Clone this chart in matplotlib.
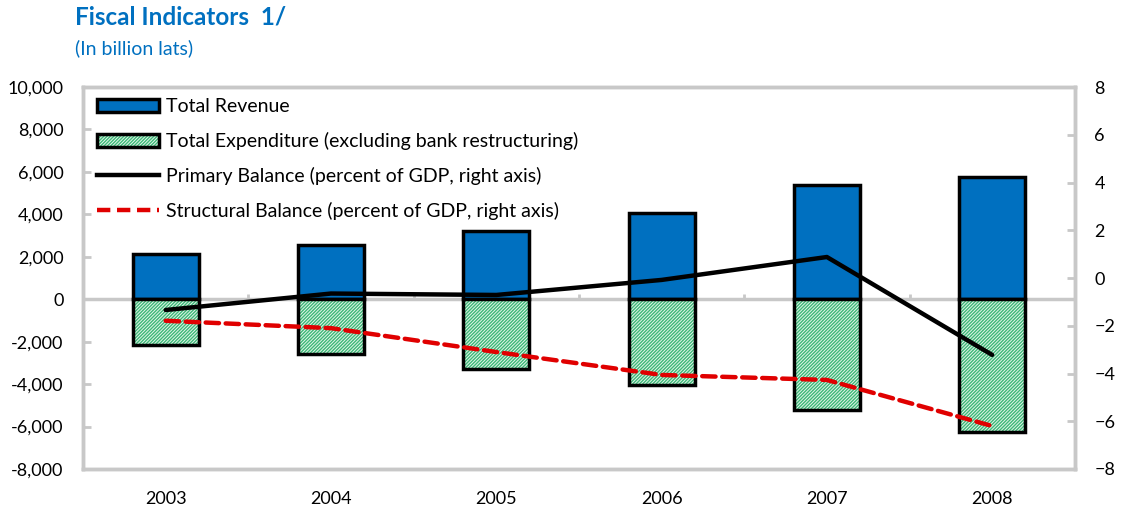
import matplotlib
matplotlib.use("Agg")
import matplotlib.pyplot as plt
import numpy as np
from matplotlib.patches import Patch
from matplotlib.lines import Line2D

years = ["2003", "2004", "2005", "2006", "2007", "2008"]
revenue = [2120, 2550, 3200, 4050, 5400, 5750]
expenditure = [2170, 2600, 3300, 4050, 5240, 6270]
primary_balance = [-1.34, -0.65, -0.71, -0.08, 0.88, -3.22]
structural_balance = [-1.79, -2.1, -3.1, -4.06, -4.27, -6.2]

left_ticks = [-8000, -6000, -4000, -2000, 0, 2000, 4000, 6000, 8000, 10000]
right_ticks = [-8, -6, -4, -2, 0, 2, 4, 6, 8]

BLUE = "#0070C0"
GREEN = "#3cb878"
LIGHTGREEN = "#e6f5ea"
GRAY = "#c8c8c8"
RED = "#e00000"
FONT = ["Lato", "DejaVu Sans"]
plt.rcParams["font.family"] = FONT
DASH = (0, (3.0, 1.5))

fig = plt.figure(figsize=(11.27, 5.12), dpi=100)
ax = fig.add_axes([0.0737, 0.084, 0.880, 0.746])
ax2 = ax.twinx()

x = np.arange(len(years))
w = 0.4
ax.bar(x, revenue, w, color=BLUE, edgecolor="black", linewidth=2.5, zorder=2)
neg = [-v for v in expenditure]
ax.bar(x, neg, w, color=LIGHTGREEN, edgecolor=GREEN, hatch="//////////", linewidth=0, zorder=2)
ax.bar(x, neg, w, color="none", edgecolor="black", linewidth=2.5, zorder=3)

ax.set_xlim(-0.5, len(years) - 0.5)
ax.set_ylim(-8000, 10000)
ax.set_yticks(left_ticks)
ax.set_yticklabels([f"{v:,}" for v in left_ticks])
ax.set_xticks(x)
ax.set_xticklabels(years)
ax.axhline(0, color=GRAY, linewidth=2.5, zorder=1)
bounds = np.arange(len(years) - 1) + 0.5
ax.vlines(bounds, 0, 250, color=GRAY, linewidth=2, zorder=1)

ax2.plot(x, primary_balance, color="black", linewidth=3.2, solid_capstyle="round", zorder=5)
ax2.plot(x, structural_balance, color=RED, linewidth=3.2, linestyle=DASH,
         dash_capstyle="round", zorder=5)
ax2.set_ylim(-8, 8)
ax2.set_yticks(right_ticks)

for a in (ax, ax2):
    for s in a.spines.values():
        s.set_color(GRAY)
        s.set_linewidth(2.5)
    a.tick_params(axis="y", direction="in", length=6, width=2, color=GRAY,
                  labelsize=13, pad=14)
ax.tick_params(axis="x", length=0, labelsize=13, pad=16)

handles = [
    Patch(facecolor=BLUE, edgecolor="black", linewidth=2.5),
    (Patch(facecolor=LIGHTGREEN, edgecolor=GREEN, hatch="//////////", linewidth=0),
     Patch(facecolor="none", edgecolor="black", linewidth=2.5)),
    Line2D([0], [0], color="black", linewidth=3.2),
    Line2D([0], [0], color=RED, linewidth=3.2, linestyle=DASH),
]
labels = [
    "Total Revenue",
    "Total Expenditure (excluding bank restructuring)",
    "Primary Balance (percent of GDP, right axis)",
    "Structural Balance (percent of GDP, right axis)",
]
leg = ax2.legend(handles, labels, loc="upper left", bbox_to_anchor=(0.0, 1.006),
                 frameon=False, fontsize=14, handlelength=3.2, handleheight=0.65,
                 labelspacing=0.86, handletextpad=0.35, borderaxespad=0.3)

fig.text(0.0665, 0.966, "Fiscal Indicators  1/", color=BLUE, fontsize=17.5,
         fontweight="bold", va="center", ha="left")
fig.text(0.0665, 0.905, "(In billion lats)", color=BLUE, fontsize=14,
         va="center", ha="left")

fig.savefig("out.png", dpi=100)
